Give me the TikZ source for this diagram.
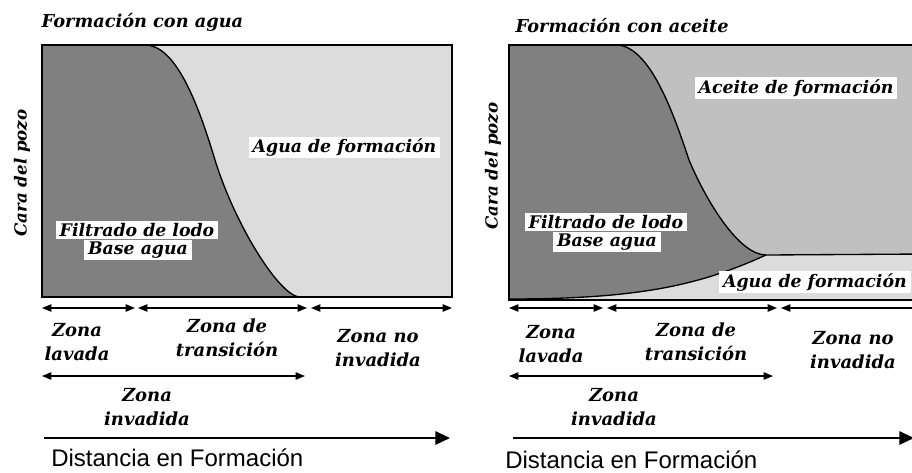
\documentclass[tikz,border=0pt]{standalone}
\usepackage{fontspec}
\usepackage{tikz}
\usetikzlibrary{arrows.meta,positioning,calc}
\newfontfamily\bookfont{DejaVu Serif}
\newfontfamily\axisfont{Liberation Sans}
\definecolor{filtrate}{RGB}{128,128,128}
\definecolor{watergray}{RGB}{220,220,220}
\definecolor{oilgray}{RGB}{192,192,192}

\begin{document}
\begin{tikzpicture}[x=0.75pt,y=-0.75pt,>=Stealth,
  fluid/.style={fill=white,inner xsep=3pt,inner ysep=1.5pt,font=\bookfont\bfseries\itshape\fontsize{13}{15}\selectfont},
  zone/.style={align=center,inner sep=0pt,font=\bookfont\bfseries\itshape\fontsize{13.5}{18}\selectfont},
  heading/.style={font=\bookfont\bfseries\itshape\fontsize{13.3}{15}\selectfont},
  dim/.style={{Triangle[length=7pt,width=5.5pt]}-{Triangle[length=7pt,width=5.5pt]},line width=1pt},
  boxline/.style={line width=1.5pt},
  front/.style={line width=1pt}]
  \useasboundingbox (0,0) rectangle (912,472);
  \clip (0,0) rectangle (912,472);

  % formacion con agua
  \fill[watergray] (42,45) rectangle (452,297);
  \fill[filtrate] (42,45) -- (145,45) .. controls (175,45) and (197,100) .. (215,160)
    .. controls (235,225) and (280,297) .. (300,297) -- (42,297) -- cycle;
  \draw[front] (145,45) .. controls (175,45) and (197,100) .. (215,160)
    .. controls (235,225) and (280,297) .. (300,297);
  \draw[boxline] (42,45) rectangle (452,297);
  \node[heading,anchor=base west] (titleL) at (37,27) {Formación con agua};
  \node[heading,rotate=90,font=\bookfont\bfseries\itshape\fontsize{12.5}{14}\selectfont] (caraL) at (22,173) {Cara del pozo};
  \node[fluid] (aguaL) at (344.5,147.5) {Agua de formación};
  \node[fluid] (filtL) at (137,230) {Filtrado de lodo};
  \node[fluid] (baseL) at (138,250) {Base agua};

  \coordinate (l0) at (42,308); \coordinate (l1) at (135,308);
  \coordinate (l2) at (138,308); \coordinate (l3) at (307,308);
  \coordinate (l4) at (311,308); \coordinate (l5) at (452,308);
  \draw[dim] (l0) -- (l1); \draw[dim] (l2) -- (l3); \draw[dim] (l4) -- (l5);
  \node[zone] (lavL) at (77,342) {Zona\\lavada};
  \node[zone] (tranL) at (227,338) {Zona de\\transición};
  \node[zone] (noinvL) at (378,348) {Zona no\\invadida};
  \coordinate (li0) at (42,376); \coordinate (li1) at (305,376);
  \draw[dim] (li0) -- (li1);
  \node[zone] (invL) at (147,407) {Zona\\invadida};
  \coordinate (ld0) at (44,438); \coordinate (ld1) at (450,438);
  \draw[-{Triangle[length=11pt,width=10pt]},line width=1.5pt] (ld0) -- (ld1);
  \node[anchor=west,inner sep=0pt,font=\axisfont\fontsize{18}{20}\selectfont] (distL) at (51,458) {Distancia en Formación};

  % formacion con aceite
  \fill[oilgray] (509,45) rectangle (925,300);
  \fill[watergray] (509,299) .. controls (640,299) and (700,285) .. (766,255) -- (925,254)
    -- (925,300) -- (509,300) -- cycle;
  \fill[filtrate] (509,45) -- (616,45) .. controls (650,45) and (674,115) .. (689,160)
    .. controls (708,205) and (740,255) .. (766,255)
    .. controls (700,285) and (640,299) .. (509,299) -- cycle;
  \draw[front] (616,45) .. controls (650,45) and (674,115) .. (689,160)
    .. controls (708,205) and (740,255) .. (766,255) -- (925,254);
  \draw[front] (509,299) .. controls (640,299) and (700,285) .. (766,255);
  \draw[boxline] (509,45) rectangle (925,300);
  \node[heading,anchor=base west] (titleR) at (511,32) {Formación con aceite};
  \node[heading,rotate=90,font=\bookfont\bfseries\itshape\fontsize{12.5}{14}\selectfont] (caraR) at (493,166) {Cara del pozo};
  \node[fluid] (aceiteR) at (796,88) {Aceite de formación};
  \node[fluid] (filtR) at (606,222) {Filtrado de lodo};
  \node[fluid] (baseR) at (607,242) {Base agua};
  \node[fluid,anchor=east] (aguaR) at (911,282) {Agua de formación};

  \coordinate (r0) at (509,308); \coordinate (r1) at (603,308);
  \coordinate (r2) at (607,308); \coordinate (r3) at (777,308);
  \coordinate (r4) at (781,308); \coordinate (r5) at (925,308);
  \draw[dim] (r0) -- (r1); \draw[dim] (r2) -- (r3); \draw[dim] (r4) -- (r5);
  \node[zone] (lavR) at (551,344) {Zona\\lavada};
  \node[zone] (tranR) at (696,342) {Zona de\\transición};
  \node[zone] (noinvR) at (853,350) {Zona no\\invadida};
  \coordinate (ri0) at (509,376); \coordinate (ri1) at (773,376);
  \draw[dim] (ri0) -- (ri1);
  \node[zone] (invR) at (614,407) {Zona\\invadida};
  \coordinate (rd0) at (513,438); \coordinate (rd1) at (914,438);
  \draw[-{Triangle[length=11pt,width=10pt]},line width=1.5pt] (rd0) -- (rd1);
  \node[anchor=west,inner sep=0pt,font=\axisfont\fontsize{18}{20}\selectfont] (distR) at (505,460) {Distancia en Formación};
\end{tikzpicture}
\end{document}
